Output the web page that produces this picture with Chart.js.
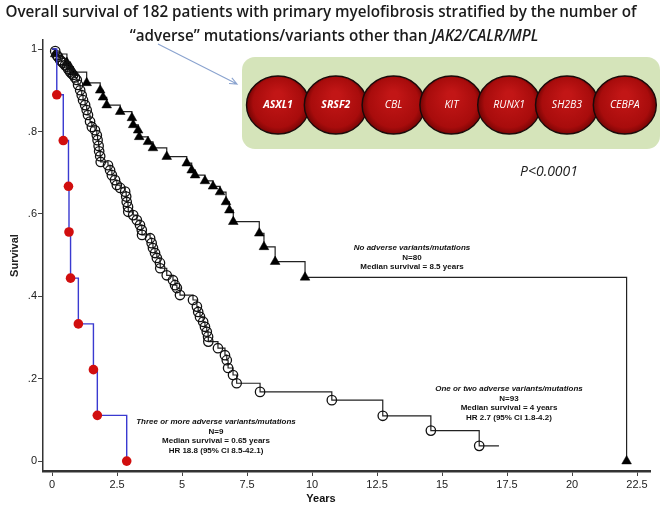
<!DOCTYPE html>
<html>
<head>
<meta charset="utf-8">
<script src="https://cdn.jsdelivr.net/npm/chart.js@4/dist/chart.umd.min.js"></script>
<style>
  html, body { margin: 0; padding: 0; background: #fff; }
  #wrap { width: 665px; height: 507px; position: relative; }
</style>
</head>
<body>
<div id="wrap"><canvas id="km"></canvas></div>
<script>
// axis ticks
const tickYears = [0, 2.5, 5, 7.5, 10, 12.5, 15, 17.5, 20, 22.5];
const tickSurv = [0, 0.2, 0.4, 0.6, 0.8, 1];
const tickSurvLabels = ["0", ".2", ".4", ".6", ".8", "1"];

// three or more adverse variants (N=9)
const threeYears = [0, 0.18, 0.43, 0.63, 0.65, 0.71, 1.01, 1.59, 1.74, 2.87];
const threeSurv = [1, 0.889, 0.778, 0.667, 0.556, 0.444, 0.333, 0.222, 0.111, 0];

// no adverse variants (N=80)
const noneYears = [0, 0.12, 0.57, 0.69, 0.81, 1.33, 1.85, 1.96, 2.10, 2.62, 3.07, 3.12, 3.31, 3.35,
  3.69, 3.88, 4.41, 5.18, 5.37, 5.50, 5.88, 6.19, 6.46, 6.69, 6.82, 6.97, 7.97, 8.15, 8.58, 9.73, 22.1];
const noneSurv = [1, 0.988, 0.967, 0.957, 0.944, 0.918, 0.900, 0.883, 0.864, 0.848, 0.833, 0.816, 0.803, 0.787,
  0.775, 0.760, 0.739, 0.723, 0.706, 0.694, 0.680, 0.667, 0.653, 0.629, 0.609, 0.581, 0.553, 0.520, 0.484, 0.446, 0];

// one or two adverse variants (N=93)
const oneTwoYears = [0, 0.12, 0.18, 0.23, 0.31, 0.37, 0.42, 0.50, 0.57, 0.62, 0.69, 0.75, 0.81, 0.88, 0.95,
  1.00, 1.08, 1.14, 1.19, 1.27, 1.33, 1.38, 1.46, 1.53, 1.65, 1.72, 1.75, 1.79, 1.81, 1.85, 1.87,
  2.15, 2.23, 2.30, 2.42, 2.49, 2.62, 2.81, 2.85, 2.87, 2.92, 2.93, 3.12, 3.26, 3.38, 3.45, 3.46,
  3.77, 3.83, 3.88, 3.96, 4.03, 4.15, 4.16, 4.41, 4.65, 4.73, 4.80, 4.92, 5.42, 5.57, 5.62, 5.69,
  5.81, 5.88, 5.95, 6.00, 6.01, 6.38, 6.65, 6.72, 6.77, 6.96, 7.10, 8.00, 10.76, 12.72, 14.57, 16.43, 17.19];
const oneTwoSurv = [1, 0.995, 0.985, 0.981, 0.973, 0.970, 0.966, 0.961, 0.957, 0.951, 0.945, 0.941, 0.937, 0.931, 0.925,
  0.913, 0.900, 0.888, 0.876, 0.864, 0.852, 0.840, 0.824, 0.811, 0.803, 0.791, 0.779, 0.765, 0.752, 0.740, 0.726,
  0.718, 0.706, 0.694, 0.682, 0.670, 0.663, 0.654, 0.642, 0.629, 0.617, 0.605, 0.597, 0.585, 0.573, 0.561, 0.549,
  0.541, 0.529, 0.517, 0.505, 0.493, 0.481, 0.468, 0.451, 0.439, 0.427, 0.420, 0.403, 0.391, 0.375, 0.362, 0.350,
  0.338, 0.326, 0.314, 0.302, 0.290, 0.274, 0.257, 0.245, 0.226, 0.209, 0.189, 0.168, 0.148, 0.110, 0.074, 0.037, 0.037];

const genes = ["ASXL1", "SRSF2", "CBL", "KIT", "RUNX1", "SH2B3", "CEBPA"];

function pts(xs, ys) {
  return xs.map((v, i) => ({ x: v, y: ys[i] }));
}

const extras = {
  id: "extras",
  afterDraw(chart) {
    const ctx = chart.ctx;
    ctx.save();

    // title
    const l1 = "Overall survival of 182 patients with primary myelofibrosis stratified by the number of";
    const l2a = "\u201Cadverse\u201D mutations/variants other than ";
    const l2b = "JAK2/CALR/MPL";
    const fam = "'Open Sans', sans-serif";
    ctx.font = "600 20px " + fam;
    let fs = Math.min(21, 20 * 632 / ctx.measureText(l1).width);
    ctx.fillStyle = "#1b1b1b";
    ctx.textBaseline = "middle";
    ctx.textAlign = "center";
    ctx.font = "600 " + fs + "px " + fam;
    ctx.fillText(l1, 321, 13);
    const wa = ctx.measureText(l2a).width;
    ctx.font = "italic 600 " + fs + "px " + fam;
    const wb = ctx.measureText(l2b).width;
    let sx = 334 - (wa + wb) / 2;
    ctx.textAlign = "left";
    ctx.font = "600 " + fs + "px " + fam;
    ctx.fillText(l2a, sx, 37);
    ctx.font = "italic 600 " + fs + "px " + fam;
    ctx.fillText(l2b, sx + wa, 37);

    // arrow
    ctx.strokeStyle = "#8aa3cf";
    ctx.lineWidth = 1.1;
    ctx.beginPath();
    ctx.moveTo(158, 44);
    ctx.lineTo(237, 84);
    const ang = Math.atan2(40, 79);
    ctx.moveTo(237 - 8 * Math.cos(ang - 0.4), 84 - 8 * Math.sin(ang - 0.4));
    ctx.lineTo(237, 84);
    ctx.lineTo(237 - 8 * Math.cos(ang + 0.4), 84 - 8 * Math.sin(ang + 0.4));
    ctx.stroke();

    // green box
    ctx.fillStyle = "#d5e4ba";
    ctx.beginPath();
    ctx.roundRect(242, 57, 418, 92, 13);
    ctx.fill();

    // gene spheres
    genes.forEach((g, i) => {
      const cx = 278 + i * 57.8, cy = 105;
      const grad = ctx.createRadialGradient(cx, cy - 10, 4, cx, cy, 32);
      grad.addColorStop(0, "#c21616");
      grad.addColorStop(0.75, "#a80c0c");
      grad.addColorStop(1, "#6e0303");
      ctx.fillStyle = grad;
      ctx.beginPath();
      ctx.ellipse(cx, cy, 31.5, 29, 0, 0, Math.PI * 2);
      ctx.fill();
      ctx.strokeStyle = "#1a0a0a";
      ctx.lineWidth = 1.4;
      ctx.stroke();
      ctx.fillStyle = "#ffffff";
      ctx.textAlign = "center";
      ctx.font = (i < 2 ? "italic bold " : "italic ") + "10.5px 'Open Sans', sans-serif";
      ctx.fillText(g, cx, cy);
    });

    // p value
    ctx.fillStyle = "#1b1b1b";
    ctx.font = "italic 14px 'Open Sans', sans-serif";
    ctx.fillText("P<0.0001", 549, 172);

    // curve annotations
    function block(cx, y0, lines) {
      lines.forEach((t, i) => {
        ctx.font = (i === 0 ? "italic bold " : "bold ") + "8px 'Liberation Sans', Arial, sans-serif";
        ctx.fillText(t, cx, y0 + i * 9.6);
      });
    }
    ctx.fillStyle = "#111";
    block(412, 248, ["No adverse variants/mutations", "N=80", "Median survival = 8.5 years"]);
    block(509, 389, ["One or two adverse variants/mutations", "N=93", "Median survival = 4 years", "HR 2.7 (95% CI 1.8-4.2)"]);
    block(216, 422, ["Three or more adverse variants/mutations", "N=9", "Median survival = 0.65 years", "HR 18.8 (95% CI 8.5-42.1)"]);

    // x axis title
    ctx.font = "bold 11px 'Liberation Sans', Arial, sans-serif";
    ctx.fillText("Years", 321, 499);
    ctx.restore();
  }
};

new Chart(document.getElementById("km"), {
  type: "scatter",
  data: {
    datasets: [
      {
        label: "Three or more",
        data: pts(threeYears, threeSurv),
        showLine: true,
        stepped: true,
        borderColor: "#3a3ad0",
        borderWidth: 1.4,
        pointStyle: "circle",
        pointRadius: (c) => (c.dataIndex === 0 ? 0 : 4.8),
        pointBackgroundColor: "#d10e0e",
        pointBorderColor: "#d10e0e",
        pointBorderWidth: 0,
      },
      {
        label: "One or two",
        data: pts(oneTwoYears, oneTwoSurv),
        showLine: true,
        stepped: true,
        borderColor: "#222",
        borderWidth: 1.2,
        pointStyle: "circle",
        pointRadius: (c) => (c.dataIndex === 0 || c.dataIndex === oneTwoYears.length - 1 ? 0 : 4.7),
        pointBackgroundColor: "rgba(0,0,0,0)",
        pointBorderColor: "#111",
        pointBorderWidth: 1.3,
      },
      {
        label: "None",
        data: pts(noneYears, noneSurv),
        showLine: true,
        stepped: true,
        borderColor: "#222",
        borderWidth: 1.2,
        pointStyle: "triangle",
        pointRadius: (c) => (c.dataIndex === 0 ? 0 : 5.6),
        pointBackgroundColor: "#000",
        pointBorderColor: "#000",
        pointBorderWidth: 0.5,
      },
    ],
  },
  options: {
    responsive: true,
    maintainAspectRatio: false,
    animation: false,
    layout: { padding: { top: 40, right: 15, left: 0, bottom: 0 } },
    plugins: {
      legend: { display: false },
      tooltip: { enabled: false },
    },
    scales: {
      x: {
        type: "linear",
        min: -0.35,
        max: 23.0,
        afterBuildTicks: (s) => { s.ticks = tickYears.map((v) => ({ value: v })); },
        afterFit: (s) => { s.height = 36; },
        ticks: {
          color: "#222",
          font: { family: "'Liberation Sans', Arial", size: 11 },
          padding: 2,
          maxRotation: 0,
          callback: (v) => String(v),
        },
        grid: { drawOnChartArea: false, drawTicks: true, tickLength: 5, color: "#444" },
        border: { color: "#333", width: 2.5 },
      },
      y: {
        type: "linear",
        min: -0.024,
        max: 1.022,
        afterBuildTicks: (s) => { s.ticks = tickSurv.map((v) => ({ value: v })); },
        afterFit: (s) => { s.width = 43; },
        ticks: {
          color: "#222",
          font: { family: "'Liberation Sans', Arial", size: 11 },
          padding: 1,
          callback: (v, i) => tickSurvLabels[i],
        },
        grid: { drawOnChartArea: false, drawTicks: true, tickLength: 5, color: "#444" },
        border: { color: "#333", width: 1.5 },
        title: {
          display: true,
          text: "Survival",
          color: "#222",
          font: { family: "'Liberation Sans', Arial", size: 11, weight: "bold" },
          padding: { top: 8 },
        },
      },
    },
  },
  plugins: [extras],
});
</script>
</body>
</html>
